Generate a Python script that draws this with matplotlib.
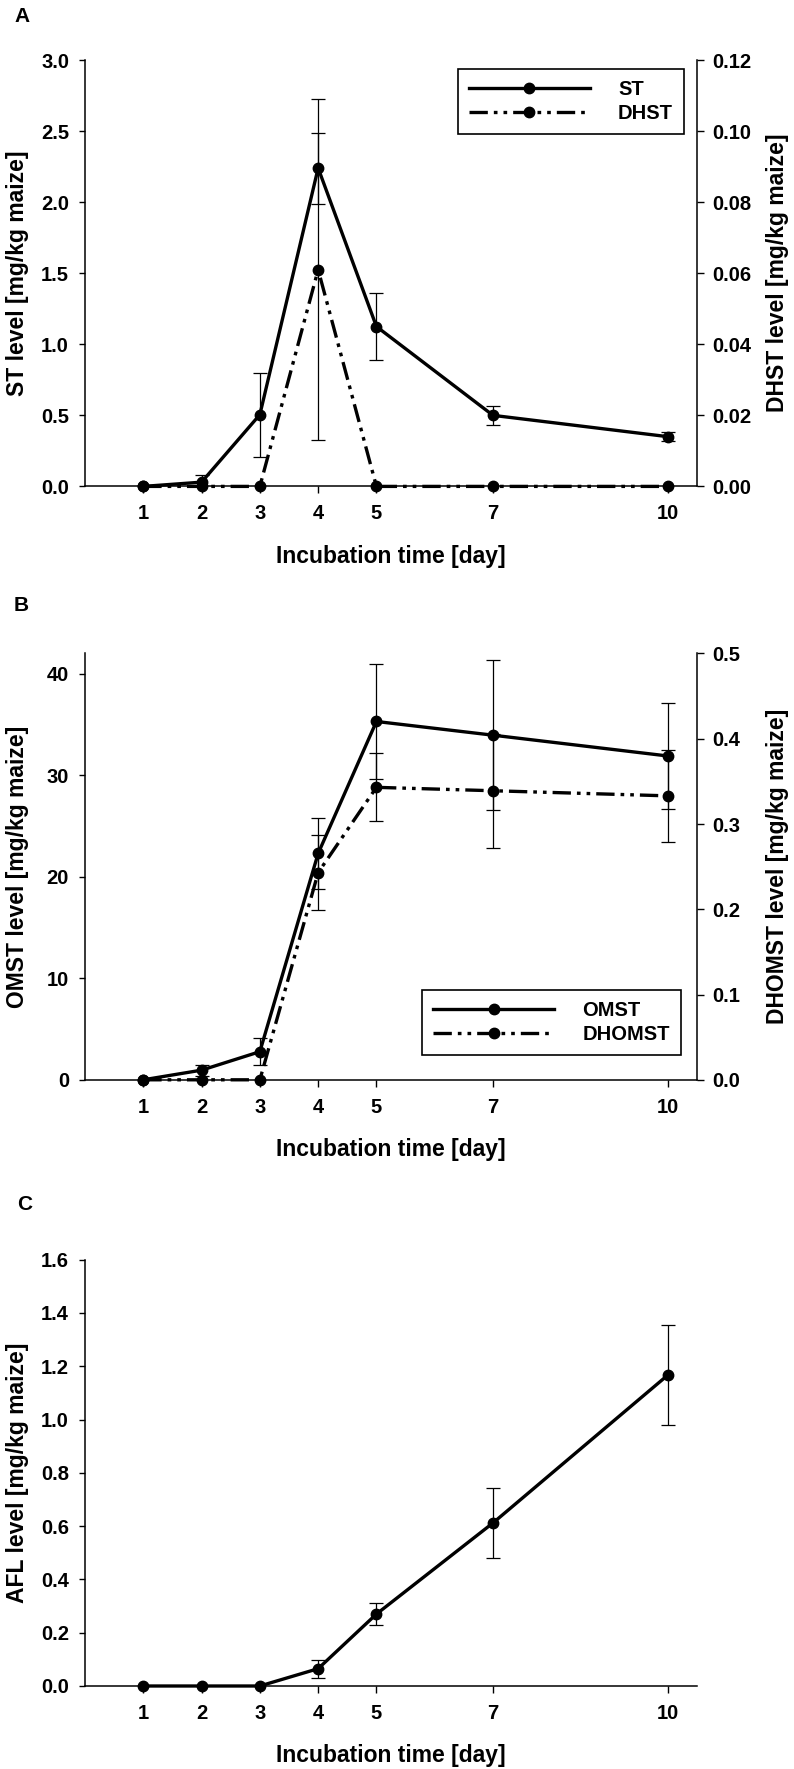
import matplotlib
matplotlib.use("Agg")
import matplotlib.pyplot as plt
import numpy as np

plt.rcParams['font.family'] = ['Liberation Sans', 'DejaVu Sans']
plt.rcParams['font.weight'] = 'bold'

# data
days = [1, 2, 3, 4, 5, 7, 10]

st = [0, 0.03, 0.505, 2.24, 1.125, 0.50, 0.35]
st_err = [0, 0.05, 0.295, 0.25, 0.235, 0.065, 0.03]
dhst = [0, 0, 0, 0.061, 0, 0, 0]
dhst_err = [0, 0, 0, 0.048, 0, 0, 0]

omst = [0, 0.95, 2.77, 22.3, 35.3, 33.95, 31.9]
omst_err = [0, 0.55, 1.3, 3.5, 5.65, 7.4, 5.25]
dhomst = [0, 0, 0, 0.243, 0.343, 0.339, 0.333]
dhomst_err = [0, 0, 0, 0.044, 0.04, 0.067, 0.054]

afl = [0, 0, 0, 0.065, 0.27, 0.612, 1.167]
afl_err = [0, 0, 0, 0.034, 0.041, 0.13, 0.187]

LW = 2.4
MS = 7.5
DASH = (5.5, 1.8, 1.1, 1.8, 1.1, 1.8)
TFS = 14.5
LFS = 16.5


def errbars(ax, y, e):
    x = np.array(days)
    y = np.array(y)
    e = np.array(e)
    m = e > 0
    ax.errorbar(x[m], y[m], yerr=e[m], fmt='none', ecolor='k',
                elinewidth=0.9, capsize=4.8, capthick=0.9, zorder=2)


def style_left(ax, ylabel):
    ax.spines['top'].set_visible(False)
    ax.spines['right'].set_visible(False)
    for s in ('left', 'bottom'):
        ax.spines[s].set_linewidth(1.1)
    ax.set_xlim(0, 10.5)
    ax.set_xticks(days)
    ax.set_xticklabels([str(d) for d in days])
    ax.tick_params(axis='x', direction='out', length=5, width=1.0, pad=8, labelsize=TFS)
    ax.tick_params(axis='y', direction='out', length=4.5, width=1.0, pad=7, labelsize=TFS)
    ax.set_xlabel('Incubation time [day]', fontsize=LFS, fontweight='bold')
    ax.xaxis.set_label_coords(0.5, -70 / 426.4)
    ax.xaxis.label.set_va('center')
    ax.set_ylabel(ylabel, fontsize=LFS, fontweight='bold')
    ax.yaxis.set_label_coords(-0.111, 0.5)
    ax.yaxis.label.set_va('center')


def style_right(ax2, ylabel):
    ax2.spines['top'].set_visible(False)
    ax2.spines['left'].set_visible(False)
    ax2.spines['bottom'].set_visible(False)
    ax2.spines['right'].set_linewidth(1.1)
    ax2.tick_params(axis='y', direction='out', length=4.8, width=1.0, pad=6, labelsize=TFS)
    ax2.set_ylabel(ylabel, fontsize=LFS, fontweight='bold', rotation=90)
    ax2.yaxis.set_label_coords(1.131, 0.5)
    ax2.yaxis.label.set_va('center')


def add_legend(ax, handles, labels, loc, anchor):
    leg = ax.legend(handles, labels, loc=loc, bbox_to_anchor=anchor, borderaxespad=0,
                    fontsize=TFS, handlelength=6, handletextpad=1.4, borderpad=0.55,
                    labelspacing=0.25, fancybox=False, framealpha=1, numpoints=1,
                    prop={'weight': 'bold', 'size': TFS})
    leg.get_frame().set_edgecolor('k')
    leg.get_frame().set_linewidth(1.2)


fig = plt.figure(figsize=(7.94, 17.69), dpi=100)
L, W, H = 85 / 794, 612 / 794, 0.241

# ---- panel A
axA = fig.add_axes([L, 0.72504, W, H])
axA2 = axA.twinx()
errbars(axA, st, st_err)
errbars(axA2, dhst, dhst_err)
hA1, = axA.plot(days, st, '-o', color='k', lw=LW, ms=MS, clip_on=False, zorder=3)
hA2, = axA2.plot(days, dhst, '-o', color='k', lw=LW, ms=MS, dashes=DASH, clip_on=False, zorder=3)
axA.set_ylim(0, 3.0)
axA.set_yticks(np.arange(0, 3.01, 0.5))
axA.yaxis.set_major_formatter(matplotlib.ticker.FormatStrFormatter('%.1f'))
axA2.set_ylim(0, 0.12)
axA2.set_yticks(np.arange(0, 0.1201, 0.02))
axA2.yaxis.set_major_formatter(matplotlib.ticker.FormatStrFormatter('%.2f'))
style_left(axA, 'ST level [mg/kg maize]')
style_right(axA2, 'DHST level [mg/kg maize]')
add_legend(axA2, [hA1, hA2], ['ST', 'DHST'], 'upper right', (0.979, 0.979))

# ---- panel B
axB = fig.add_axes([L, 0.38960, W, H])
axB2 = axB.twinx()
errbars(axB, omst, omst_err)
errbars(axB2, dhomst, dhomst_err)
hB1, = axB.plot(days, omst, '-o', color='k', lw=LW, ms=MS, clip_on=False, zorder=3)
hB2, = axB2.plot(days, dhomst, '-o', color='k', lw=LW, ms=MS, dashes=DASH, clip_on=False, zorder=3)
axB.set_ylim(0, 42)
axB.set_yticks([0, 10, 20, 30, 40])
axB2.set_ylim(0, 0.5)
axB2.set_yticks(np.arange(0, 0.501, 0.1))
axB2.yaxis.set_major_formatter(matplotlib.ticker.FormatStrFormatter('%.1f'))
style_left(axB, 'OMST level [mg/kg maize]')
style_right(axB2, 'DHOMST level [mg/kg maize]')
add_legend(axB2, [hB1, hB2], ['OMST', 'DHOMST'], 'lower right', (0.974, 0.058))

# ---- panel C
axC = fig.add_axes([L, 0.04692, W, H])
errbars(axC, afl, afl_err)
axC.plot(days, afl, '-o', color='k', lw=LW, ms=MS, clip_on=False, zorder=3)
axC.set_ylim(0, 1.6)
axC.set_yticks(np.arange(0, 1.601, 0.2))
axC.yaxis.set_major_formatter(matplotlib.ticker.FormatStrFormatter('%.1f'))
style_left(axC, 'AFL level [mg/kg maize]')

# panel letters
fig.text(22 / 794, 1 - 16 / 1769, 'A', fontsize=15, fontweight='bold', ha='center', va='center')
fig.text(21 / 794, 1 - 605 / 1769, 'B', fontsize=15, fontweight='bold', ha='center', va='center')
fig.text(25 / 794, 1 - 1204 / 1769, 'C', fontsize=15, fontweight='bold', ha='center', va='center')

fig.savefig('out.png', dpi=100)
